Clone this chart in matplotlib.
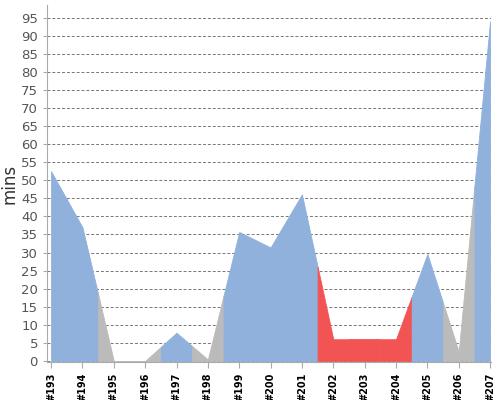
import numpy as np
import matplotlib
matplotlib.use('Agg')
import matplotlib.pyplot as plt

# build numbers, duration in minutes, build status
builds = ['#193', '#194', '#195', '#196', '#197', '#198', '#199', '#200',
          '#201', '#202', '#203', '#204', '#205', '#206', '#207']
minutes = [52.5, 37, 0, 0, 7.8, 0.4, 35.7, 31.4, 46.1, 6, 6, 6, 29.6, 2.6, 94]
status = ['ok', 'ok', 'aborted', 'aborted', 'ok', 'aborted', 'ok', 'ok',
          'ok', 'failed', 'failed', 'failed', 'ok', 'aborted', 'ok']

colors = {'ok': '#8fb1db', 'aborted': '#bbbbbb', 'failed': '#f25454'}

x = np.arange(len(builds))
fig = plt.figure(figsize=(5, 4), dpi=100)
ax = fig.add_axes([0.094, 0.095, 0.888, 0.8925])

# each build owns the stretch half way to its neighbours
for i, st in enumerate(status):
    lo = max(i - 0.5, 0)
    hi = min(i + 0.5, len(builds) - 1)
    xs = np.array([lo, i, hi])
    ys = np.interp(xs, x, minutes)
    ax.fill_between(xs, 0, ys, facecolor=colors[st], edgecolor=colors[st],
                    linewidth=0.6, zorder=2)

ax.set_xlim(-0.13, len(builds) - 1 + 0.03)
ax.set_ylim(-0.3, 98.5)
ax.set_yticks(range(0, 100, 5))
ax.yaxis.grid(True, linestyle=(0, (3, 2)), color='#777777', linewidth=0.7, zorder=1)
ax.set_axisbelow(True)
ax.set_xticks(x)
ax.set_xticklabels(builds, rotation=90, fontsize=7, fontweight='bold')
ax.tick_params(axis='y', labelsize=9.5, labelcolor='#555555', color='#aaaaaa', length=3)
ax.tick_params(axis='x', color='#aaaaaa', length=4)
ax.set_ylabel('mins', fontsize=12, color='#333333', labelpad=2)

for s in ['top', 'right']:
    ax.spines[s].set_visible(False)
ax.spines['left'].set_color('#aaaaaa')
ax.spines['bottom'].set_color('#aaaaaa')

fig.savefig('out.png', dpi=100)
